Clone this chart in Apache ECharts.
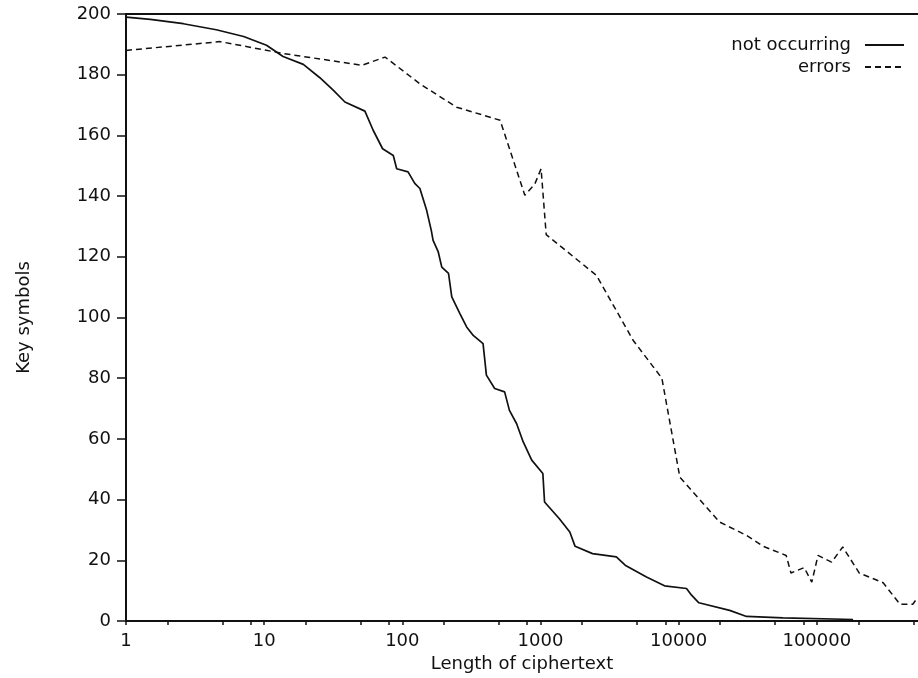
<!DOCTYPE html>
<html>
<head>
<meta charset="utf-8">
<script src="https://cdn.jsdelivr.net/npm/echarts@6/dist/echarts.min.js"></script>
<style>
html,body{margin:0;padding:0;background:#fff;}
#chart{width:918px;height:678px;}
</style>
</head>
<body>
<div id="chart"></div>
<script>
// ---- data ----
const notOccurringX = [1, 1.5, 2.6, 4.5, 7.1, 10.4, 13.7, 19.2, 25.3, 31.6, 38.4, 53.6, 61.5, 72, 86, 91, 110, 123, 134, 150, 162, 167, 182, 193, 216, 228, 261, 292, 326, 384, 406, 466, 550, 596, 672, 750, 864, 1040, 1070, 1370, 1630, 1780, 2380, 3540, 4100, 5850, 7900, 11400, 12400, 14000, 23400, 31000, 57000, 183000];
const notOccurringY = [199, 198.2, 196.8, 194.8, 192.6, 189.7, 186, 183.4, 179, 174.9, 171, 168, 161.7, 155.6, 153.4, 149, 148, 144.2, 142.5, 135.3, 128.7, 125.4, 121.6, 116.6, 114.5, 106.8, 101.3, 96.9, 94.1, 91.4, 81, 76.6, 75.5, 69.4, 65, 59, 53, 48.6, 39.2, 33.7, 29.3, 24.6, 22.2, 21.1, 18.4, 14.5, 11.6, 10.7, 8.5, 6, 3.5, 1.5, 1, 0.5];

const errorsX = [1, 4.8, 13.7, 50.9, 75, 134, 247, 510, 770, 910, 1010, 1100, 2540, 4680, 7560, 10200, 19800, 31000, 41000, 60000, 65000, 81000, 92000, 102000, 128000, 154000, 203000, 302000, 400000, 495000, 530000];
const errorsY = [188, 190.9, 187, 183.1, 185.8, 177, 169.3, 165, 140.3, 144, 149, 127.3, 113.9, 92.5, 80, 47.4, 32.6, 28.2, 24.6, 21.6, 15.8, 17.6, 12.8, 21.6, 19.4, 24.4, 15.8, 12.6, 5.5, 5.5, 7.4];

const xTickValues = [1, 2, 5, 8, 10, 20, 50, 80, 100, 200, 500, 800, 1000, 2000, 5000, 8000, 10000, 20000, 50000, 80000, 100000, 200000, 500000];
const xLabelValues = [1, 10, 100, 1000, 10000, 100000];
const yTicks = [0, 20, 40, 60, 80, 100, 120, 140, 160, 180, 200];

const seriesNames = ['not occurring', 'errors'];
const xTitle = 'Length of ciphertext';
const yTitle = 'Key symbols';

const FONT = '"DejaVu Sans", "Liberation Sans", Arial, sans-serif';
const INK = '#111';

function zip(xs, ys) { return xs.map((x, i) => [x, ys[i]]); }

const legendBase = {
  right: 13, padding: 0, align: 'right',
  itemWidth: 39, itemHeight: 14, selectedMode: false,
  itemStyle: {opacity: 0},
  textStyle: {fontFamily: FONT, fontSize: 18, color: INK, padding: [0, 9, 0, 0]}
};

const chart = echarts.init(document.getElementById('chart'), null, {renderer: 'canvas'});
chart.setOption({
  animation: false,
  backgroundColor: '#fff',
  grid: {left: 126, right: 0, top: 14, bottom: 57, containLabel: false},
  legend: [
    Object.assign({}, legendBase, {data: [seriesNames[0]], top: 36}),
    Object.assign({}, legendBase, {data: [seriesNames[1]], top: 58})
  ],
  xAxis: [
    {
      type: 'log', logBase: 10, min: 1, max: 540000, position: 'bottom',
      name: xTitle, nameLocation: 'middle', nameGap: 33,
      nameTextStyle: {fontFamily: FONT, fontSize: 18, color: INK},
      axisLine: {show: true, lineStyle: {color: INK, width: 2}},
      axisTick: {show: true, length: 4, customValues: xTickValues, lineStyle: {color: INK, width: 1.5}},
      axisLabel: {
        show: true, margin: 11, customValues: xLabelValues,
        fontFamily: FONT, fontSize: 18, color: INK,
        formatter: v => String(Math.round(v))
      },
      splitLine: {show: false},
      minorTick: {show: false}
    },
    {
      type: 'log', logBase: 10, min: 1, max: 540000, position: 'top',
      axisLine: {show: true, lineStyle: {color: INK, width: 2}},
      axisTick: {show: false}, axisLabel: {show: false}, splitLine: {show: false}
    }
  ],
  yAxis: {
    type: 'value', min: 0, max: 200, interval: 20,
    name: yTitle, nameLocation: 'middle', nameGap: 93,
    nameTextStyle: {fontFamily: FONT, fontSize: 18, color: INK},
    axisLine: {show: true, lineStyle: {color: INK, width: 2}},
    axisTick: {show: true, length: 9, lineStyle: {color: INK, width: 1.5}},
    axisLabel: {margin: 15, fontFamily: FONT, fontSize: 18, color: INK,
      customValues: yTicks},
    splitLine: {show: false}
  },
  series: [
    {
      name: seriesNames[0], type: 'line', xAxisIndex: 0,
      data: zip(notOccurringX, notOccurringY),
      showSymbol: false, symbol: 'none', smooth: false,
      lineStyle: {color: INK, width: 1.7, type: 'solid'},
      itemStyle: {color: INK}
    },
    {
      name: seriesNames[1], type: 'line', xAxisIndex: 0,
      data: zip(errorsX, errorsY),
      showSymbol: false, symbol: 'none', smooth: false,
      lineStyle: {color: INK, width: 1.5, type: [6, 4]},
      itemStyle: {color: INK}
    }
  ]
});
</script>
</body>
</html>
